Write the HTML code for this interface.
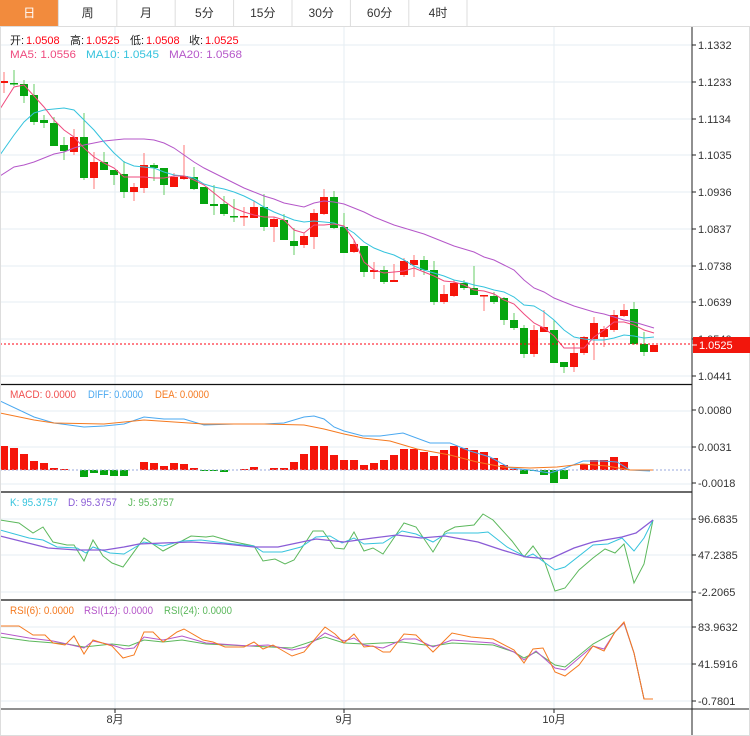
<!DOCTYPE html>
<html><head><meta charset="utf-8">
<style>
body{margin:0;background:#fff;width:750px;height:736px;overflow:hidden;font-family:"Liberation Sans","Noto Sans CJK SC",sans-serif}
svg{display:block}
</style></head><body>
<svg id="s" width="750" height="736" xmlns="http://www.w3.org/2000/svg" font-family="Liberation Sans, Noto Sans CJK SC, sans-serif" font-size="11"></svg>
<script>
var s=document.getElementById('s'),h='';
function L(x1,y1,x2,y2,c,w,d){h+='<line x1="'+x1+'" y1="'+y1+'" x2="'+x2+'" y2="'+y2+'" stroke="'+c+'" stroke-width="'+(w||1)+'"'+(d?' stroke-dasharray="'+d+'"':'')+'/>';}
function R(x,y,w,hh,c){h+='<rect x="'+x+'" y="'+y+'" width="'+w+'" height="'+hh+'" fill="'+c+'"/>';}
function T(x,y,t,c,a,fs,tl){h+='<text x="'+x+'" y="'+y+'" fill="'+c+'"'+(a?' text-anchor="'+a+'"':'')+(fs?' font-size="'+fs+'"':'')+(tl?' textLength="'+tl+'" lengthAdjust="spacingAndGlyphs"':'')+'>'+t+'</text>';}
function P(pts,c,w){h+='<polyline fill="none" stroke="'+c+'" stroke-width="'+(w||1)+'" points="'+pts+'"/>';}
var tabs=['日','周','月','5分','15分','30分','60分','4时'];
for(var i=0;i<8;i++){var x=i*58.4;if(i==0)R(0,0,58.4,26,'#f28b3d');else{L(x,0,x,26,'#ddd');}
T(x+29.2,17,tabs[i],i==0?'#fff':'#333','middle',12);}
L(467,0,467,26,'#ddd');L(0,26.5,750,26.5,'#ddd');
var gc='#e6eef3';
[45,82,119,155,192,229,266,302,339,376].forEach(function(y){L(0,y,692,y,gc)});
[411,447,484].forEach(function(y){L(0,y,692,y,gc)});
[519,555,592].forEach(function(y){L(0,y,692,y,gc)});
[627,664,701].forEach(function(y){L(0,y,692,y,gc)});
[115,344,554].forEach(function(x){L(x,27,x,709,gc)});
var C=[[83,81,72,93],[83,83,70,86],[84,96,80,103],[95,122,84,125],[120,123,115,128],[123,146,117,146],[145,151,137,160],[152,137,129,155],[137,178,113,180],[178,162,152,189],[162,170,152,170],[170,175,170,185],[174,192,161,198],[192,187,183,201],[188,165,153,193],[165,168,163,181],[168,185,168,195],[187,177,173,187],[179,176,145,180],[177,189,167,190],[187,204,187,204],[204,206,185,215],[204,214,196,216],[216,216,199,222],[216,216,207,226],[218,207,201,218],[207,227,194,231],[227,219,217,242],[220,240,214,240],[241,246,228,255],[245,236,233,248],[237,213,209,249],[214,197,189,215],[197,228,191,229],[227,253,213,253],[252,244,240,253],[246,272,246,277],[272,270,262,279],[270,282,266,284],[282,280,264,282],[275,261,258,277],[265,260,255,277],[260,270,256,275],[270,302,261,305],[302,294,285,304],[296,283,280,297],[283,288,280,290],[288,295,266,295],[295,295,295,311],[296,302,292,304],[298,320,297,325],[320,328,313,330],[328,354,325,358],[354,330,325,357],[332,327,310,332],[330,363,320,363],[362,367,362,373],[367,353,343,372],[353,337,336,355],[339,323,317,360],[337,329,326,347],[330,315,310,332],[316,310,304,317],[309,344,302,345],[344,352,332,356],[352,345,345,352]];
C.forEach(function(c,i){var x=4+10*i,up=c[1]<c[0]||(c[1]==c[0]&&i%2==0&&i>22),col=up?'#f5150a':'#06a50f',wc=up?'#f77':'#6c6';
L(x,c[2],x,c[3],wc,1);var t=Math.min(c[0],c[1]),b=Math.max(c[0],c[1]);R(x-4,t,8,Math.max(b-t,1.5),col);});
var ma5=[109,87,85,96,107,120,130,137,148,157,163,168,177,177,177,178,178,176,176,180,185,193,201,208,212,215,217,217,220,230,233,225,225,224,226,240,262,270,273,272,271,268,272,276,281,282,285,290,291,294,300,304,314,323,328,336,348,348,348,337,330,322,322,325,330,333];
var ma10=[155,135,122,113,110,109,108,110,120,130,142,153,162,166,167,168,172,175,176,178,184,187,189,192,196,201,207,212,216,220,222,221,222,223,227,233,242,248,252,255,260,266,270,273,276,280,282,285,287,290,292,297,305,306,312,320,330,337,339,340,340,338,335,336,338,337];
var ma20=[176,167,165,162,158,154,152,148,145,143,141,140,139,139,139,140,143,148,155,162,168,173,178,183,188,192,196,199,203,205,207,203,201,202,204,208,212,217,221,225,228,231,234,238,242,246,249,252,257,260,265,270,280,288,292,298,302,306,309,312,314,317,320,322,325,328];
function mp(a){return a.map(function(v,i){return (i==0?0:4+10*i)+','+v}).join(' ')}
P(mp(ma20),'#b557c9');P(mp(ma10),'#35c3dd');P(mp(ma5),'#ef4a7e');
L(0,344,692,344,'#f01','1','2,2');
T(10,44,'开:','#222');T(26,44,'1.0508','#f01');T(70,44,'高:','#222');T(86,44,'1.0525','#f01');T(130,44,'低:','#222');T(146,44,'1.0508','#f01');T(189,44,'收:','#222');T(205,44,'1.0525','#f01');
T(10,58,'MA5: 1.0556','#ef4a7e',0,0,66);T(86,58,'MA10: 1.0545','#35c3dd',0,0,73);T(169,58,'MA20: 1.0568','#b557c9',0,0,73);
var hist=[24,22,16,9,7,2,1,0,-7,-3,-5,-6,-6,0,8,7,4,7,6,2,-1,-1,-2,0,1,3,0,2,2,8,16,24,24,15,10,10,5,7,10,15,21,21,18,14,20,24,22,20,18,12,5,1,-4,-1,-5,-13,-9,0,6,10,10,13,8,0,0,0];
hist.forEach(function(v,i){if(v==0)return;var x=4+10*i;if(v>0)R(x-4,470-v,8,v,'#f5150a');else R(x-4,470,8,-v,'#06a50f');});
L(0,470,692,470,'#9ad','1','2,2');
P('0,401 34,417 54,423 84,427 104,426 124,424 144,417 164,419 184,419 204,425 234,424 264,424 284,423 304,417 314,416 324,419 334,427 344,431 363,436 380,436 403,433 430,443 450,443 470,451 490,457 510,468 530,470 550,473 563,469 583,461 603,461 617,462 630,470 650,471','#4aa8f0');
P('0,413 34,420 54,423 104,424 144,420 204,424 264,424 304,425 324,429 344,434 363,438 390,441 417,449 450,455 477,462 503,467 530,468 557,467 583,464 607,466 630,470 653,470','#f57a20');
T(10,398,'MACD: 0.0000','#f05050',0,0,66);T(88,398,'DIFF: 0.0000','#4aa8f0',0,0,55);T(155,398,'DEA: 0.0000','#f57a20',0,0,54);
P('0,520 19,523 33,533 43,527 53,542 67,545 74,545 84,561 93,540 103,556 112,563 123,567 144,538 163,551 191,536 206,537 213,536 230,541 254,546 263,561 275,559 285,564 294,560 313,531 323,531 335,548 344,549 354,532 364,551 373,548 383,554 404,523 416,527 433,552 445,532 455,527 474,525 483,514 493,520 512,541 524,557 533,546 545,563 555,591 565,588 579,570 593,558 605,549 615,553 624,544 634,583 644,564 653,520','#5cb85c');
P('0,530 29,538 43,540 57,547 77,548 86,553 93,547 110,553 124,554 144,542 163,546 182,541 201,540 225,543 254,546 263,552 282,552 301,547 316,537 330,536 342,543 354,538 364,544 383,543 402,531 416,534 433,542 447,533 478,533 488,532 507,547 526,557 533,554 555,570 565,567 593,545 608,544 622,538 634,551 644,538 653,520','#35c3dd');
P('0,536 48,548 77,550 105,550 124,547 139,544 163,543 191,542 225,544 254,547 278,547 297,543 316,539 344,542 373,538 397,535 421,538 445,536 478,542 502,550 526,557 550,559 574,548 593,542 622,537 636,533 653,520','#8a5cd6',1.3);
T(10,506,'K: 95.3757','#35c3dd',0,0,48);T(68,506,'D: 95.3757','#8a5cd6',0,0,49);T(128,506,'J: 95.3757','#5cb85c',0,0,46);
P('0,637 29,641 67,644 84,647 112,644 129,646 144,640 163,642 182,640 206,644 249,646 292,648 325,637 344,643 364,644 402,642 433,646 452,643 493,645 514,652 524,658 536,652 555,665 565,667 593,644 615,632 624,623 634,653 644,699 653,699','#5cb85c');
P('0,633 29,638 53,641 67,644 84,648 93,641 112,645 124,649 134,648 144,637 163,640 182,636 206,643 249,646 268,645 292,650 306,647 325,633 344,641 354,638 364,645 383,648 404,639 416,639 433,647 452,640 493,643 514,652 524,660 536,651 555,668 565,670 593,646 604,649 615,632 624,623 634,653 644,699 653,699','#b557c9');
P('0,626 19,626 33,635 45,635 53,643 65,645 74,636 84,654 93,640 112,646 123,658 134,655 144,632 153,632 163,642 177,632 184,629 203,640 213,642 225,647 244,647 254,642 263,649 273,645 292,656 304,652 325,627 335,634 344,643 354,634 364,647 373,646 383,652 390,652 404,634 416,635 433,652 452,633 471,637 493,639 514,650 524,663 533,649 543,648 555,672 565,676 579,665 593,646 604,651 615,632 624,622 634,653 644,699 653,699','#f57a20');
T(10,614,'RSI(6): 0.0000','#f57a20',0,0,64);T(84,614,'RSI(12): 0.0000','#b557c9',0,0,69);T(164,614,'RSI(24): 0.0000','#5cb85c',0,0,68);
[384.5,492,600].forEach(function(y){L(0,y,692,y,'#111',1.3)});
L(0,709,750,709,'#222',1);
L(692,27,692,736,'#222',1);
L(0,735.5,750,735.5,'#ddd');L(0.5,27,0.5,736,'#ddd');L(749.5,27,749.5,736,'#ddd');
function RL(y,t){L(692,y,696,y,'#222');T(698,y+4,t,'#333');}
RL(45,'1.1332');RL(82,'1.1233');RL(119,'1.1134');RL(155,'1.1035');RL(192,'1.0936');RL(229,'1.0837');RL(266,'1.0738');RL(302,'1.0639');RL(339,'1.0540');RL(376,'1.0441');
R(693,337,57,16,'#f2160c');L(692,345,697,345,'#fff');T(699,349,'1.0525','#fff');
RL(410,'0.0080');RL(447,'0.0031');RL(483,'-0.0018');
RL(519,'96.6835');RL(555,'47.2385');RL(592,'-2.2065');
RL(627,'83.9632');RL(664,'41.5916');RL(701,'-0.7801');
[115,344,554].forEach(function(x){L(x,709,x,713,'#222')});
T(115,723,'8月','#333','middle');T(344,723,'9月','#333','middle');T(554,723,'10月','#333','middle');
s.innerHTML=h;
</script>
</body></html>
